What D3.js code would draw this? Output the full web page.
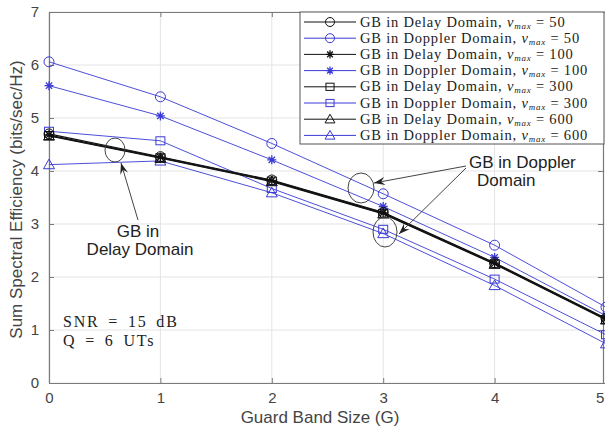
<!DOCTYPE html>
<html>
<head>
<meta charset="utf-8">
<script src="https://cdn.jsdelivr.net/npm/d3@7/dist/d3.min.js"></script>
<style>
  html, body { margin: 0; padding: 0; background: #fff; }
  svg { display: block; }
</style>
</head>
<body>
<svg id="chart" width="605" height="429"></svg>
<script>
// Guard band size (G)
const guardBand = [0, 1, 2, 3, 4, 5];
const xTicks = [0, 1, 2, 3, 4, 5];
const yTicks = [0, 1, 2, 3, 4, 5, 6, 7];

// Maximum Doppler values
const nuMax = [50, 100, 300, 600];

// Sum spectral efficiency, guard band in delay domain
const delay50  = [4.70, 4.27, 3.83, 3.22, 2.27, 1.22];
const delay100 = [4.68, 4.26, 3.82, 3.21, 2.26, 1.21];
const delay300 = [4.67, 4.25, 3.81, 3.20, 2.25, 1.20];
const delay600 = [4.66, 4.24, 3.80, 3.19, 2.24, 1.19];

// Sum spectral efficiency, guard band in Doppler domain
const doppler50  = [6.06, 5.40, 4.52, 3.57, 2.60, 1.43];
const doppler100 = [5.61, 5.04, 4.21, 3.33, 2.37, 1.27];
const doppler300 = [4.75, 4.57, 3.67, 2.90, 1.96, 0.91];
const doppler600 = [4.12, 4.19, 3.59, 2.82, 1.84, 0.74];

const BLACK = "#111";
const BLUE = "#3a3ad6";

const series = [
  { domain: "Delay",   nu: nuMax[0], values: delay50,    color: BLACK, marker: "circle" },
  { domain: "Doppler", nu: nuMax[0], values: doppler50,  color: BLUE,  marker: "circle" },
  { domain: "Delay",   nu: nuMax[1], values: delay100,   color: BLACK, marker: "star" },
  { domain: "Doppler", nu: nuMax[1], values: doppler100, color: BLUE,  marker: "star" },
  { domain: "Delay",   nu: nuMax[2], values: delay300,   color: BLACK, marker: "square" },
  { domain: "Doppler", nu: nuMax[2], values: doppler300, color: BLUE,  marker: "square" },
  { domain: "Delay",   nu: nuMax[3], values: delay600,   color: BLACK, marker: "triangle" },
  { domain: "Doppler", nu: nuMax[3], values: doppler600, color: BLUE,  marker: "triangle" }
];

const svg = d3.select("#chart");
const pLeft = 49, pRight = 606, pTop = 12, pBottom = 383;

const x = d3.scaleLinear().domain([0, 5]).range([pLeft, pRight]);
const y = d3.scaleLinear().domain([0, 7]).range([pBottom, pTop]);

// grid
const grid = svg.append("g").attr("stroke", "#e4e4e4").attr("stroke-width", 1);
grid.selectAll(".gx").data(xTicks).join("line")
  .attr("x1", d => x(d)).attr("x2", d => x(d)).attr("y1", pTop).attr("y2", pBottom);
grid.selectAll(".gy").data(yTicks).join("line")
  .attr("x1", pLeft).attr("x2", pRight).attr("y1", d => y(d)).attr("y2", d => y(d));

// axes (box with inward ticks)
const axisColor = "#7a7a7a";
const sans = "Liberation Sans, Arial, sans-serif";
const xAxis = svg.append("g").attr("transform", `translate(0,${pBottom})`)
  .call(d3.axisBottom(x).tickValues(xTicks).tickFormat(d3.format("d")).tickSizeInner(-5).tickSizeOuter(0).tickPadding(9));
const yAxis = svg.append("g").attr("transform", `translate(${pLeft},0)`)
  .call(d3.axisLeft(y).tickValues(yTicks).tickFormat(d3.format("d")).tickSizeInner(-5).tickSizeOuter(0).tickPadding(10));
const xTop = svg.append("g").attr("transform", `translate(0,${pTop})`)
  .call(d3.axisTop(x).tickValues(xTicks).tickFormat("").tickSizeInner(-5).tickSizeOuter(0));
const yRight = svg.append("g").attr("transform", `translate(${pRight - 3},0)`)
  .call(d3.axisRight(y).tickValues(yTicks).tickFormat("").tickSizeInner(-5).tickSizeOuter(0));
[xAxis, yAxis, xTop, yRight].forEach(g => {
  g.select(".domain").attr("stroke", axisColor).attr("stroke-width", 1.2);
  g.selectAll(".tick line").attr("stroke", axisColor);
  g.selectAll(".tick text").attr("fill", "#444").style("font-family", sans).style("font-size", "15px");
});
// last x tick label sits at the window edge; keep it just inside
xAxis.selectAll(".tick text").filter(d => d === 5).attr("text-anchor", "end").attr("dx", "-0.15em");

// axis labels
svg.append("text")
  .attr("x", 320).attr("y", 423).attr("text-anchor", "middle")
  .style("font-family", sans).style("font-size", "17px").attr("fill", "#444")
  .text("Guard Band Size (G)");
svg.append("text")
  .attr("transform", `translate(22,${(pTop + pBottom) / 2 + 2}) rotate(-90)`)
  .attr("text-anchor", "middle")
  .style("font-family", sans).style("font-size", "17px").attr("fill", "#444")
  .text("Sum Spectral Efficiency (bits/sec/Hz)");

// marker drawing
function drawMarker(g, type, cx, cy, color, s) {
  s = s || 1;
  if (type === "circle") {
    g.append("circle").attr("cx", cx).attr("cy", cy).attr("r", 5 * s)
      .attr("fill", "none").attr("stroke", color).attr("stroke-width", 1);
  } else if (type === "square") {
    g.append("rect").attr("x", cx - 4.5 * s).attr("y", cy - 4 * s)
      .attr("width", 9 * s).attr("height", 8 * s)
      .attr("fill", "none").attr("stroke", color).attr("stroke-width", 1);
  } else if (type === "triangle") {
    const r = 5.5 * s;
    g.append("path")
      .attr("d", `M${cx},${cy - r}L${cx + r},${cy + r * 0.75}L${cx - r},${cy + r * 0.75}Z`)
      .attr("fill", "none").attr("stroke", color).attr("stroke-width", 1);
  } else if (type === "star") {
    const r = 4.5 * s;
    const p = [];
    [0, 45, 90, 135].forEach(a => {
      const t = a * Math.PI / 180;
      p.push(`M${cx - r * Math.cos(t)},${cy - r * Math.sin(t)}L${cx + r * Math.cos(t)},${cy + r * Math.sin(t)}`);
    });
    g.append("path").attr("d", p.join("")).attr("stroke", color).attr("stroke-width", 1.3);
  }
}

// curves
const line = d3.line().x((d, i) => x(guardBand[i])).y(d => y(d));
const plot = svg.append("g");
// Doppler (blue) first, delay (black) on top
const order = series.filter(s => s.domain === "Doppler").concat(series.filter(s => s.domain === "Delay"));
order.forEach(s => {
  const g = plot.append("g");
  g.append("path").datum(s.values).attr("d", line)
    .attr("fill", "none").attr("stroke", s.color)
    .attr("stroke-width", s.domain === "Delay" ? 1.1 : 0.9);
  s.values.forEach((v, i) => drawMarker(g, s.marker, x(guardBand[i]), y(v), s.color));
});

// annotations
const ann = svg.append("g").attr("fill", "none").attr("stroke", "#444").attr("stroke-width", 1);
ann.append("ellipse").attr("cx", 115).attr("cy", 150).attr("rx", 10).attr("ry", 12);
ann.append("ellipse").attr("cx", 361).attr("cy", 188).attr("rx", 13).attr("ry", 15);
ann.append("ellipse").attr("cx", 385).attr("cy", 232).attr("rx", 12).attr("ry", 15);

function arrow(x1, y1, x2, y2) {
  ann.append("line").attr("x1", x1).attr("y1", y1).attr("x2", x2).attr("y2", y2);
  const ang = Math.atan2(y2 - y1, x2 - x1);
  const L = 11, W = 4;
  const bx = x2 - L * Math.cos(ang), by = y2 - L * Math.sin(ang);
  const nx = -Math.sin(ang) * W, ny = Math.cos(ang) * W;
  svg.append("path")
    .attr("d", `M${x2},${y2}L${bx + nx},${by + ny}L${bx + 0.35 * L * Math.cos(ang)},${by + 0.35 * L * Math.sin(ang)}L${bx - nx},${by - ny}Z`)
    .attr("fill", "#222");
}
arrow(138, 220, 121, 163);
arrow(466, 166, 374, 183);
arrow(466, 168, 399, 234);

const t1 = svg.append("text").style("font-family", sans).style("font-size", "17px").attr("fill", "#222");
t1.append("tspan").attr("x", 138).attr("y", 237).attr("text-anchor", "middle").text("GB in");
t1.append("tspan").attr("x", 140).attr("y", 255).attr("text-anchor", "middle").text("Delay Domain");
const t2 = svg.append("text").style("font-family", sans).style("font-size", "17px").attr("fill", "#222");
t2.append("tspan").attr("x", 469).attr("y", 168).text("GB in Doppler");
t2.append("tspan").attr("x", 477).attr("y", 186).text("Domain");

const serif = "Liberation Serif, 'DejaVu Serif', serif";
svg.append("text").attr("x", 63).attr("y", 327).style("font-family", serif).style("font-size", "16px")
  .style("letter-spacing", "1.8px").style("word-spacing", "3px").attr("fill", "#222")
  .text("SNR = 15 dB");
svg.append("text").attr("x", 63).attr("y", 346).style("font-family", serif).style("font-size", "16px")
  .style("letter-spacing", "1.8px").style("word-spacing", "3px").attr("fill", "#222")
  .text("Q = 6 UTs");

// legend
const lg = svg.append("g");
const lgX = 300, lgY = 12, lgW = 304, lgH = 132;
lg.append("rect").attr("x", lgX).attr("y", lgY).attr("width", lgW).attr("height", lgH)
  .attr("fill", "#fff").attr("stroke", "#555").attr("stroke-width", 1);
series.forEach((s, i) => {
  const cy = lgY + 10 + i * 16.2;
  lg.append("line").attr("x1", lgX + 4).attr("x2", lgX + 56).attr("y1", cy).attr("y2", cy)
    .attr("stroke", s.color).attr("stroke-width", 1);
  drawMarker(lg, s.marker, lgX + 30, cy, s.color, 0.9);
  const t = lg.append("text").attr("x", lgX + 60).attr("y", cy + 4.5)
    .style("font-family", serif).style("font-size", "14.5px").style("letter-spacing", "0.8px").attr("fill", "#222");
  t.append("tspan").text(`GB in ${s.domain} Domain, `);
  t.append("tspan").style("font-style", "italic").text("ν");
  t.append("tspan").style("font-style", "italic").style("font-size", "9px").attr("dy", 2).text("max");
  t.append("tspan").attr("dy", -2).text(` = ${s.nu}`);
});
</script>
</body>
</html>
